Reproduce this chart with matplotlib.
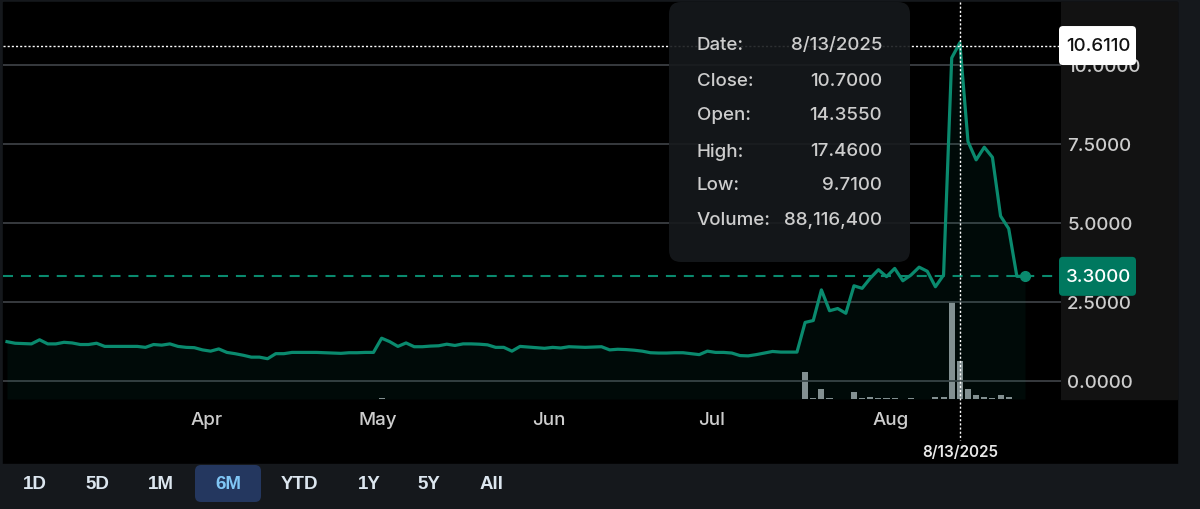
import matplotlib
matplotlib.use("Agg")
import matplotlib.pyplot as plt
import matplotlib.transforms as mtransforms
from matplotlib.patches import FancyBboxPatch, Rectangle

plt.rcParams['font.family'] = ['Inter', 'DejaVu Sans']

W, H = 1200, 510

# daily closes, one per trading day (6M view)
close = [
    1.23, 1.18, 1.17, 1.16, 1.29, 1.16, 1.16, 1.21, 1.19, 1.14,
    1.14, 1.18, 1.08, 1.08, 1.08, 1.08, 1.08, 1.05, 1.14, 1.12,
    1.16, 1.08, 1.05, 1.04, 0.97, 0.93, 1.00, 0.89, 0.85, 0.80,
    0.74, 0.74, 0.69, 0.85, 0.85, 0.89, 0.89, 0.89, 0.89, 0.88,
    0.87, 0.86, 0.88, 0.88, 0.89, 0.89, 1.34, 1.23, 1.08, 1.19,
    1.07, 1.07, 1.09, 1.10, 1.15, 1.11, 1.16, 1.16, 1.15, 1.13,
    1.05, 1.05, 0.93, 1.08, 1.06, 1.04, 1.02, 1.05, 1.03, 1.07,
    1.06, 1.05, 1.06, 1.07, 0.97, 0.99, 0.98, 0.96, 0.93, 0.88,
    0.87, 0.87, 0.88, 0.88, 0.85, 0.82, 0.93, 0.89, 0.89, 0.87,
    0.79, 0.78, 0.82, 0.87, 0.92, 0.90, 0.90, 0.90, 1.84, 1.90,
    2.87, 2.21, 2.28, 2.13, 3.00, 2.92, 3.24, 3.51, 3.29, 3.55,
    3.16, 3.34, 3.59, 3.46, 2.97, 3.34, 10.22, 10.70, 7.57, 6.99,
    7.39, 7.07, 5.21, 4.81, 3.30, 3.30,
]

# volume (millions) for the days where a bar is visible
vol_idx = [46, 98, 99, 100, 101, 104, 105, 106, 107, 108, 109, 111,
           114, 115, 116, 117, 118, 119, 120, 121, 122, 123]
vol_m = [1.5, 62.4, 2.3, 23.4, 1.6, 16.4, 2.3, 4.7, 2.3, 2.3, 2.3, 2.3,
         4.7, 4.7, 227.0, 88.1, 23.4, 9.4, 4.7, 2.3, 9.4, 4.7]

month_labels = ["Apr", "May", "Jun", "Jul", "Aug"]
month_idx = [24, 45, 66, 86, 108]
price_ticks = [0, 2.5, 5, 7.5, 10]

hover_idx = 117
hover_date = "8/13/2025"
hover_price = 10.6110
last_price = 3.30

tip_labels = ["Date:", "Close:", "Open:", "High:", "Low:", "Volume:"]
tip_values = ["8/13/2025", "10.7000", "14.3550", "17.4600", "9.7100", "88,116,400"]

buttons = ["1D", "5D", "1M", "6M", "YTD", "1Y", "5Y", "All"]
button_x = [35, 97, 161, 228, 299, 369, 429, 492]
active = "6M"

teal = '#0a8a6e'
grid_c = '#3b3f43'
txt_c = '#cdcdcd'
FS = 13.5

fig = plt.figure(figsize=(W / 100, H / 100), dpi=100, facecolor='#15181c')

# backdrop in pixel coordinates
back = fig.add_axes([0, 0, 1, 1], zorder=0)
back.set_xlim(0, W)
back.set_ylim(H, 0)
back.axis('off')
back.add_patch(Rectangle((3, 3), 1174, 462, color='#000000'))
back.add_patch(Rectangle((1061, 3), 116, 397, color='#121212'))

# volume axes underneath, price axes on top
vax = fig.add_axes([3 / W, 1 - 400 / H, 1058 / W, 397 / H], zorder=1)
vax.set_facecolor('#000000')
ax = vax.twinx()
ax.set_zorder(2)
ax.patch.set_visible(False)

x = list(range(len(close)))
vax.bar(vol_idx, vol_m, width=0.75, color='#8d9195', zorder=1)
vax.set_ylim(0, 929)
vax.set_xlim(-0.49, 129.42)
vax.set_yticks([])
for s in vax.spines.values():
    s.set_visible(False)

ymin, ymax = -0.586, 11.99
ax.set_ylim(ymin, ymax)
ax.set_xlim(-0.49, 129.42)
for v in price_ticks:
    ax.axhline(v, color=grid_c, lw=1.3, zorder=1)

ax.fill_between(x, close, ymin, color=teal, alpha=0.08, lw=0, zorder=2)
ax.plot(x, close, color=teal, lw=2.3, zorder=4)
ax.axhline(last_price, color=teal, lw=1.5, ls=(0, (4.8, 3.8)), zorder=3)
ax.plot([x[-1]], [close[-1]], 'o', color=teal, ms=7, zorder=5)

ax.set_yticks(price_ticks)
ax.set_yticklabels([f"{v:.4f}" for v in price_ticks], fontweight='medium')
ax.yaxis.tick_right()
ax.tick_params(axis='y', length=0, pad=4.5, labelsize=FS, labelcolor=txt_c)
vax.set_xticks([m + 0.5 for m in month_idx])
vax.set_xticklabels(month_labels, fontweight='medium')
vax.tick_params(axis='x', length=0, pad=8.5, labelsize=FS, labelcolor=txt_c)
ax.tick_params(axis='x', length=0, labelbottom=False)
for s in ax.spines.values():
    s.set_visible(False)

# overlay: crosshair, tooltip, price boxes, buttons
fo = fig.add_axes([0, 0, 1, 1], zorder=5)
fo.set_xlim(0, W)
fo.set_ylim(H, 0)
fo.axis('off')
fo.patch.set_alpha(0)


def price_px(v):
    return H - ax.transData.transform((0, v))[1]


for v, fc, tc in [(hover_price, 'white', '#111111'), (last_price, '#00785f', 'white')]:
    py = price_px(v)
    fo.add_patch(FancyBboxPatch((1059, py - 19.5), 77, 39,
                                boxstyle='round,pad=0,rounding_size=4',
                                fc=fc, ec='none', zorder=3))
    fo.text(1066, py, f"{v:.4f}", ha='left', va='center', fontsize=FS,
            color=tc, fontweight='medium', zorder=4)

xb = mtransforms.blended_transform_factory(ax.transData, fo.transData)
yb = mtransforms.blended_transform_factory(fo.transData, ax.transData)
fo.plot([hover_idx, hover_idx], [3, 441], transform=xb, color='white', lw=1,
        ls=(0, (1.5, 1.5)), zorder=2)
fo.plot([3, 1059], [hover_price, hover_price], transform=yb, color='white', lw=1,
        ls=(0, (1.5, 1.5)), zorder=2)
fo.text(hover_idx, 453, hover_date, transform=xb, ha='center', va='center',
        fontsize=11, color='#e8e8e8', fontweight='semibold')

fo.add_patch(FancyBboxPatch((669, 3), 241, 260, boxstyle='round,pad=0,rounding_size=12',
                            fc='#16191c', ec='none', alpha=0.9, zorder=3))
row_y = [45, 81, 116, 152, 186, 221]
for lab, val, yy in zip(tip_labels, tip_values, row_y):
    fo.text(697, yy, lab, ha='left', va='center', fontsize=FS, color=txt_c,
            fontweight='medium', zorder=4)
    fo.text(882, yy, val, ha='right', va='center', fontsize=FS, color=txt_c,
            fontweight='medium', zorder=4)

fo.add_patch(Rectangle((0, 465), W, 45, color='#15181c', zorder=1))
for b, bx in zip(buttons, button_x):
    if b == active:
        fo.add_patch(FancyBboxPatch((195, 466), 66, 37, boxstyle='round,pad=0,rounding_size=6',
                                    fc='#24375f', ec='none', zorder=2))
        c = '#80c6f6'
    else:
        c = '#dce6ef'
    fo.text(bx, 485, b, ha='center', va='center', fontsize=13.5, color=c,
            family=['Liberation Sans', 'DejaVu Sans'], fontweight='bold', zorder=3)

fig.savefig('out.png', dpi=100, facecolor=fig.get_facecolor())
